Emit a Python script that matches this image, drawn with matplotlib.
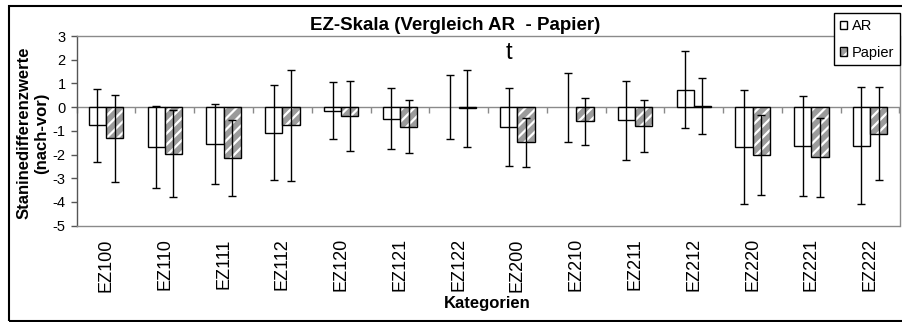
import matplotlib
matplotlib.use("Agg")
import matplotlib.pyplot as plt
import numpy as np
from matplotlib.patches import Rectangle

# Mean stanine difference (post - pre) and standard deviation per category
categories = ["EZ100", "EZ110", "EZ111", "EZ112", "EZ120", "EZ121", "EZ122",
              "EZ200", "EZ210", "EZ211", "EZ212", "EZ220", "EZ221", "EZ222"]
ar_mean = [-0.77, -1.68, -1.56, -1.07, -0.15, -0.48, 0.0,
           -0.84, 0.0, -0.56, 0.74, -1.67, -1.62, -1.62]
ar_sd = [1.55, 1.73, 1.68, 2.02, 1.21, 1.29, 1.35,
         1.65, 1.46, 1.67, 1.63, 2.40, 2.11, 2.45]
papier_mean = [-1.32, -1.97, -2.14, -0.77, -0.39, -0.82, -0.05,
               -1.49, -0.60, -0.78, 0.03, -2.02, -2.12, -1.13]
papier_sd = [1.82, 1.83, 1.60, 2.33, 1.48, 1.10, 1.62,
             1.05, 0.99, 1.10, 1.18, 1.68, 1.68, 1.96]
y_ticks = [3, 2, 1, 0, -1, -2, -3, -4, -5]
marker_text = "t"
marker_category = "EZ200"

plt.rcParams["font.family"] = ["Liberation Sans", "DejaVu Sans"]
plt.rcParams["hatch.color"] = "white"
plt.rcParams["hatch.linewidth"] = 1.6

W, H = 902, 322
fig = plt.figure(figsize=(W / 100, H / 100), dpi=100)

# plot area in pixel units
left, right, top, bottom = 76.7, 899.5, 36.0, 225.7
ax = fig.add_axes([left / W, 1 - bottom / H, (right - left) / W, (bottom - top) / H])

x = np.arange(len(categories))
bw = 0.294
frame_gray = "#8a8a8a"

# AR bars: white with black outline (zero-height bars are not outlined)
ar_lw = [0 if v == 0 else 1.0 for v in ar_mean]
ar_bars = ax.bar(x - bw / 2, ar_mean, width=bw, color="white", edgecolor="black",
                 linewidth=ar_lw, zorder=2)

# Papier bars: grey with white diagonal stripes, then a black outline on top
pap_fill = ax.bar(x + bw / 2, papier_mean, width=bw, color="#9b9b9b",
                  hatch="///", linewidth=0, zorder=2)
pap_edge = ax.bar(x + bw / 2, papier_mean, width=bw, fill=False,
                  edgecolor="black", linewidth=1.0, zorder=2.1)

# Error bars (standard deviation)
ax.errorbar(x - bw / 2, ar_mean, yerr=ar_sd, fmt="none", ecolor="black",
            elinewidth=1.0, capsize=2.7, capthick=1.0, zorder=3)
ax.errorbar(x + bw / 2, papier_mean, yerr=papier_sd, fmt="none", ecolor="black",
            elinewidth=1.0, capsize=2.7, capthick=1.0, zorder=3)

ax.set_xlim(-0.5, len(categories) - 0.5)
ax.set_ylim(-5, 3)
ax.set_yticks(y_ticks)
ax.set_yticklabels([str(v) for v in y_ticks])
ax.tick_params(axis="y", direction="out", length=4, width=1.0, color="#555555",
               labelsize=10.5, pad=4)

ax.set_xticks(x)
ax.set_xticklabels(categories, rotation=90, fontsize=13)
ax.tick_params(axis="x", length=0, pad=9)

for side in ("top", "right", "bottom"):
    ax.spines[side].set_color(frame_gray)
    ax.spines[side].set_linewidth(1.0)
ax.spines["left"].set_color("#555555")
ax.spines["left"].set_linewidth(1.0)

# category axis line at zero with boundary tick marks
zero_axis = ax.secondary_xaxis(0, transform=ax.transData)
zero_axis.set_xticks(np.arange(-0.5, len(categories), 1.0))
zero_axis.set_xticklabels([])
zero_axis.tick_params(direction="out", length=4.5, width=1.0, color=frame_gray)
zero_axis.spines["bottom"].set_color(frame_gray)
zero_axis.spines["bottom"].set_linewidth(1.0)

# significance marker
mi = categories.index(marker_category)
ax.text(mi - bw / 2, 2.27, marker_text, ha="center", va="center", fontsize=17)

# titles and axis labels
fig.text(455 / W, 1 - 25 / H, "EZ-Skala (Vergleich AR  - Papier)", ha="center",
         va="center", fontsize=13.5, fontweight="bold")
fig.text(33 / W, 1 - 133 / H, "Staninedifferenzwerte\n(nach-vor)", ha="center",
         va="center", rotation=90, fontsize=12, fontweight="bold",
         multialignment="center", linespacing=1.25)
fig.text(487.5 / W, 1 - 303.5 / H, "Kategorien", ha="center", va="center",
         fontsize=12, fontweight="bold")

# legend
leg = fig.legend([(ar_bars[0],), (pap_fill[0], pap_edge[0])], ["AR", "Papier"],
                 loc="upper right", bbox_to_anchor=(900 / W, 1 - 13.3 / H),
                 bbox_transform=fig.transFigure, borderaxespad=0,
                 fontsize=10.5, frameon=True, fancybox=False, framealpha=1,
                 edgecolor="black", handlelength=0.5, handleheight=0.5,
                 handletextpad=0.3, labelspacing=0.85, borderpad=0.4)
leg.get_frame().set_linewidth(1.0)

# outer chart border
fig.patches.append(Rectangle((9 / W, 1 - 320.7 / H), (906 - 9) / W, (320.7 - 6) / H,
                             transform=fig.transFigure, fill=False,
                             edgecolor="black", linewidth=1.5))

fig.savefig("out.png", dpi=100)
